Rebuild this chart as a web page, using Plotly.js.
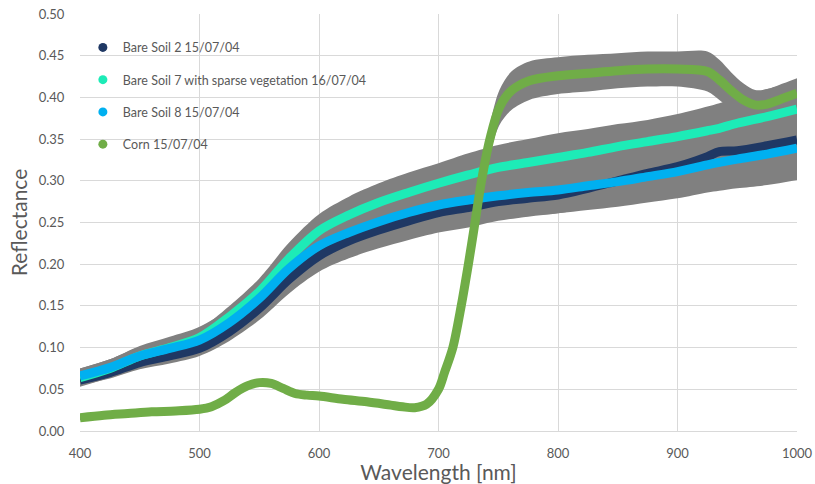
<!DOCTYPE html>
<html>
<head>
<meta charset="utf-8">
<script src="https://cdn.plot.ly/plotly-3.0.1.min.js"></script>
<style>html,body{margin:0;padding:0;background:#fff;}#chart{width:815px;height:484px;}</style>
</head>
<body>
<div id="chart"></div>
<script>
// Wavelengths [nm] for the bare soil spectra
const soilWl = [400,425,450,475,500,525,550,575,600,625,650,675,700,725,750,775,800,825,850,875,900,925,935,950,975,1000];
// Bare Soil 2 15/07/04
const soil2 = [0.061,0.070,0.082,0.090,0.099,0.119,0.147,0.182,0.210,0.228,0.241,0.252,0.262,0.268,0.275,0.279,0.283,0.291,0.300,0.309,0.317,0.329,0.335,0.336,0.342,0.349];
const soil2Err = [0.006,0.007,0.008,0.009,0.009,0.011,0.014,0.017,0.019,0.021,0.022,0.023,0.024,0.024,0.023,0.022,0.022,0.024,0.027,0.030,0.033,0.037,0.040,0.040,0.043,0.046];
// Bare Soil 7 with sparse vegetation 16/07/04
const soil7 = [0.064,0.075,0.090,0.100,0.112,0.137,0.167,0.207,0.240,0.259,0.274,0.286,0.297,0.307,0.316,0.322,0.328,0.334,0.341,0.347,0.353,0.360,0.363,0.369,0.377,0.386];
const soil7Err = [0.011,0.011,0.011,0.011,0.011,0.013,0.016,0.019,0.020,0.022,0.023,0.024,0.024,0.026,0.027,0.028,0.029,0.028,0.027,0.026,0.027,0.029,0.030,0.031,0.033,0.034];
// Bare Soil 8 15/07/04
const soil8 = [0.066,0.076,0.090,0.099,0.109,0.130,0.159,0.195,0.222,0.238,0.251,0.262,0.271,0.277,0.282,0.286,0.289,0.294,0.299,0.305,0.311,0.319,0.322,0.326,0.332,0.339];
const soil8Err = [0.009,0.010,0.012,0.014,0.016,0.017,0.019,0.021,0.022,0.024,0.025,0.026,0.027,0.027,0.028,0.028,0.028,0.029,0.030,0.031,0.032,0.033,0.034,0.035,0.037,0.038];
// Corn 15/07/04
const cornWl = [400,420,440,460,480,500,510,520,530,540,550,560,570,580,590,600,620,640,660,670,680,690,700,705,712,719,725,730,736,743,751,761,776,800,825,850,875,900,925,935,945,955,965,975,985,1000];
const corn = [0.016,0.019,0.021,0.023,0.024,0.026,0.029,0.036,0.046,0.054,0.058,0.057,0.051,0.045,0.043,0.042,0.038,0.035,0.031,0.029,0.028,0.032,0.050,0.070,0.100,0.150,0.200,0.245,0.300,0.350,0.388,0.408,0.420,0.426,0.429,0.432,0.434,0.434,0.431,0.421,0.408,0.397,0.391,0.392,0.397,0.405];
const cornErr = [0.003,0.003,0.003,0.003,0.003,0.003,0.003,0.003,0.003,0.003,0.003,0.003,0.003,0.003,0.003,0.003,0.003,0.003,0.003,0.003,0.003,0.003,0.005,0.006,0.008,0.010,0.012,0.014,0.016,0.018,0.021,0.023,0.023,0.022,0.022,0.021,0.021,0.021,0.024,0.024,0.022,0.020,0.018,0.018,0.018,0.018];

const seriesNames = ['Bare Soil 2 15/07/04','Bare Soil 7 with sparse vegetation 16/07/04','Bare Soil 8 15/07/04','Corn 15/07/04'];
const seriesColors = ['#1F3864','#1DEBB7','#00B0F0','#70AD47'];
const bandColor = '#808080';

const series = [
  {x: soilWl, y: soil2, e: soil2Err},
  {x: soilWl, y: soil7, e: soil7Err},
  {x: soilWl, y: soil8, e: soil8Err},
  {x: cornWl, y: corn, e: cornErr}
];

const traces = [];
const lineShape = {shape: 'spline', smoothing: 0.9};
// error bands first
series.forEach(s => {
  traces.push({x: s.x, y: s.y.map((v,i)=>v - s.e[i]), mode:'lines', line:Object.assign({width:0, color:bandColor}, lineShape), showlegend:false, hoverinfo:'skip'});
  traces.push({x: s.x, y: s.y.map((v,i)=>v + s.e[i]), mode:'lines', fill:'tonexty', fillcolor:bandColor, line:Object.assign({width:0, color:bandColor}, lineShape), showlegend:false, hoverinfo:'skip'});
});
// lines
series.forEach((s, k) => {
  traces.push({x: s.x, y: s.y, mode:'lines', name: seriesNames[k], line:Object.assign({width:9, color:seriesColors[k]}, lineShape), showlegend:false});
});
// legend entries (dot markers)
seriesNames.forEach((n, k) => {
  traces.push({x:[null], y:[null], mode:'markers', name:n, marker:{size:9, color:seriesColors[k]}, legendgroup:'g'+k, showlegend:true});
});

const fontFam = 'Lato, "Open Sans", "DejaVu Sans", sans-serif';
const layout = {
  width: 815, height: 484,
  margin: {l:80, r:18, t:14, b:53},
  paper_bgcolor:'#fff', plot_bgcolor:'#fff',
  showlegend: true,
  legend: {x:0.004, y:0.955, xanchor:'left', yanchor:'top', bgcolor:'rgba(0,0,0,0)', font:{family:fontFam, size:12.5, color:'#595959'}, tracegroupgap:13, itemwidth:30},
  xaxis: {
    range:[400,1000], tickvals:[400,500,600,700,800,900,1000], ticktext:['400','500','600','700','800','900','1000'],
    showgrid:true, gridcolor:'#D9D9D9', gridwidth:1, zeroline:false,
    showline:true, linecolor:'#D9D9D9', linewidth:1, mirror:false,
    ticks:'outside', ticklen:10, tickcolor:'rgba(0,0,0,0)',
    tickfont:{family:fontFam, size:13, color:'#595959'},
    title:{text:'Wavelength [nm]', font:{family:fontFam, size:21, color:'#595959'}, standoff:8},
    automargin:false
  },
  yaxis: {
    range:[0,0.5], tickvals:[0,0.05,0.1,0.15,0.2,0.25,0.3,0.35,0.4,0.45,0.5],
    ticktext:['0.00','0.05','0.10','0.15','0.20','0.25','0.30','0.35','0.40','0.45','0.50'],
    showgrid:true, gridcolor:'#D9D9D9', gridwidth:1, zeroline:false,
    showline:false,
    ticks:'outside', ticklen:12, tickcolor:'rgba(0,0,0,0)',
    tickfont:{family:fontFam, size:13, color:'#595959'},
    title:{text:'Reflectance', font:{family:fontFam, size:21, color:'#595959'}, standoff:5},
    automargin:false
  }
};

Plotly.newPlot('chart', traces, layout, {staticPlot:true, displayModeBar:false});
</script>
</body>
</html>
